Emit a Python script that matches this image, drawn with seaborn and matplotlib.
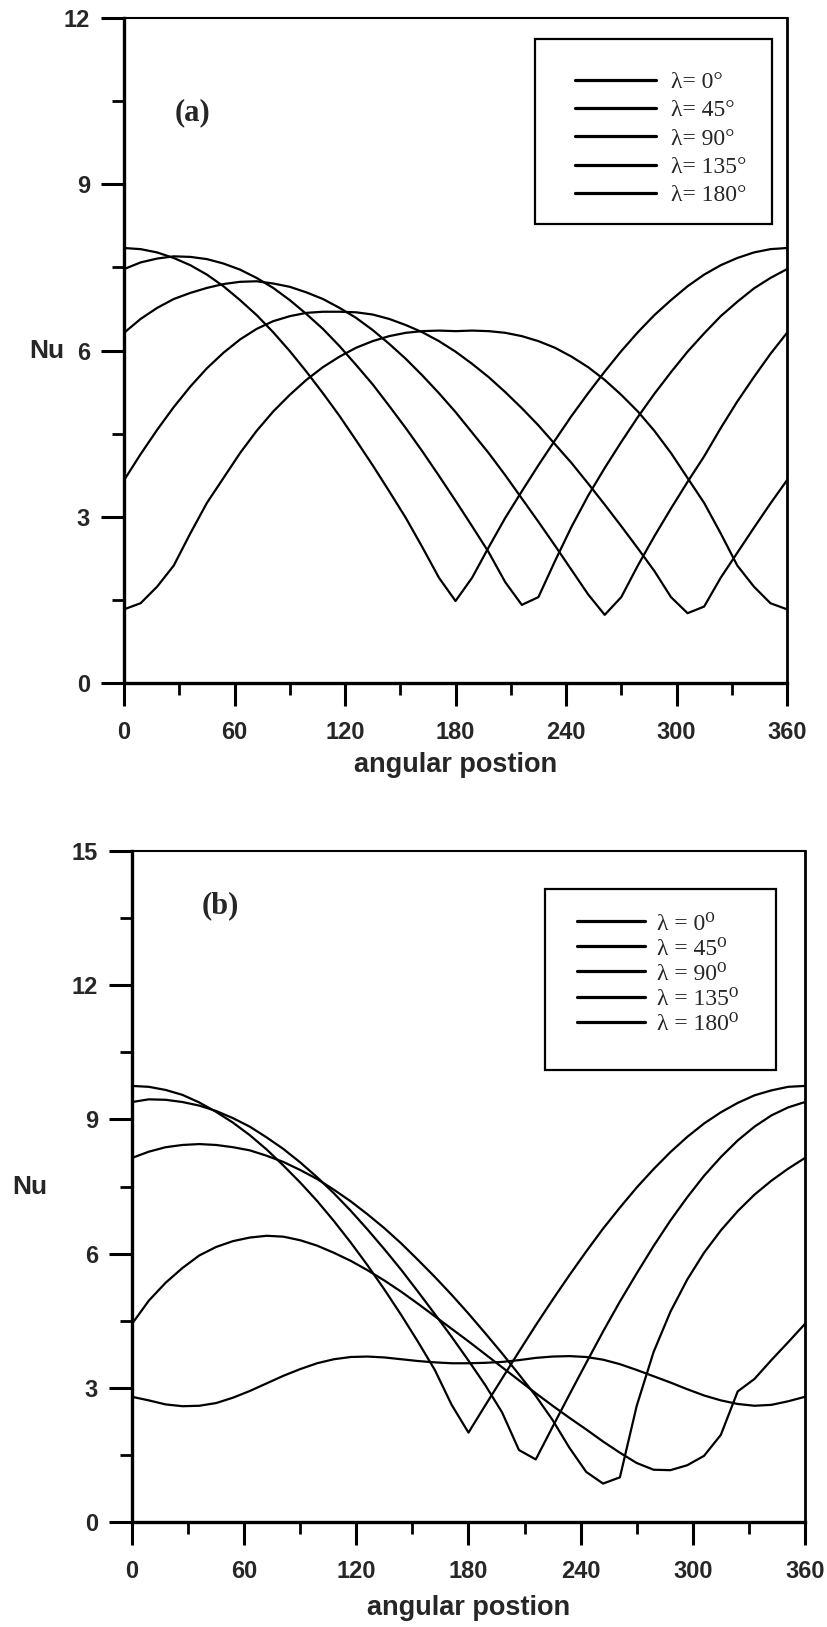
import matplotlib
matplotlib.use("Agg")
import matplotlib.pyplot as plt
from matplotlib.ticker import MultipleLocator
from matplotlib.patches import Rectangle
import seaborn as sns
import pandas as pd
import numpy as np

sns.set_style("ticks")
plt.rcParams['font.family'] = ['Liberation Sans', 'DejaVu Sans']
plt.rcParams['font.weight'] = 'bold'

# angular position samples (deg)
angle = np.arange(0, 361, 9)

# panel (a)
lam_a = ['λ= 0°', 'λ= 45°', 'λ= 90°', 'λ= 135°', 'λ= 180°']
nu_a0 = [7.85, 7.83, 7.77, 7.67, 7.54, 7.37, 7.16, 6.91, 6.64, 6.33, 5.99, 5.62, 5.23, 4.82,
         4.38, 3.93, 3.46, 2.98, 2.45, 1.90, 1.48, 1.90, 2.45, 2.98, 3.46, 3.93, 4.38, 4.82,
         5.23, 5.62, 5.99, 6.33, 6.64, 6.91, 7.16, 7.37, 7.54, 7.67, 7.77, 7.83, 7.85]
nu_a45 = [7.47, 7.59, 7.66, 7.70, 7.69, 7.65, 7.57, 7.46, 7.31, 7.13, 6.91, 6.66, 6.39, 6.08,
          5.74, 5.39, 5.00, 4.60, 4.18, 3.74, 3.29, 2.83, 2.36, 1.82, 1.41, 1.55, 2.20, 2.82,
          3.38, 3.88, 4.35, 4.80, 5.22, 5.61, 5.98, 6.31, 6.62, 6.88, 7.12, 7.31, 7.47]
nu_a90 = [6.32, 6.57, 6.77, 6.93, 7.04, 7.13, 7.20, 7.24, 7.25, 7.21, 7.15, 7.05, 6.93, 6.77,
          6.59, 6.37, 6.12, 5.85, 5.55, 5.23, 4.89, 4.52, 4.15, 3.75, 3.33, 2.91, 2.48, 2.04,
          1.60, 1.23, 1.55, 2.12, 2.65, 3.15, 3.63, 4.09, 4.60, 5.08, 5.52, 5.94, 6.32]
nu_a135 = [3.66, 4.13, 4.57, 4.98, 5.35, 5.68, 5.96, 6.20, 6.39, 6.53, 6.62, 6.68, 6.70, 6.70,
           6.69, 6.65, 6.57, 6.46, 6.33, 6.17, 5.98, 5.76, 5.52, 5.25, 4.96, 4.65, 4.31, 3.97,
           3.60, 3.22, 2.83, 2.43, 2.02, 1.55, 1.26, 1.38, 1.90, 2.35, 2.80, 3.24, 3.66]
nu_a180 = [1.33, 1.44, 1.74, 2.12, 2.70, 3.25, 3.70, 4.15, 4.55, 4.90, 5.20, 5.47, 5.70, 5.89,
           6.05, 6.17, 6.26, 6.32, 6.35, 6.36, 6.35, 6.36, 6.35, 6.32, 6.26, 6.17, 6.05, 5.89,
           5.70, 5.47, 5.20, 4.90, 4.55, 4.15, 3.70, 3.25, 2.70, 2.12, 1.74, 1.44, 1.33]

# panel (b)
lam_b = ['λ = 0⁰', 'λ = 45⁰', 'λ = 90⁰', 'λ = 135⁰', 'λ = 180⁰']
nu_b0 = [9.75, 9.73, 9.66, 9.55, 9.38, 9.17, 8.93, 8.65, 8.33, 7.97, 7.59, 7.18, 6.73, 6.25,
         5.74, 5.20, 4.63, 4.03, 3.40, 2.62, 2.00, 2.61, 3.21, 3.81, 4.40, 4.97, 5.52, 6.05,
         6.56, 7.03, 7.48, 7.89, 8.27, 8.61, 8.91, 9.16, 9.37, 9.54, 9.65, 9.73, 9.75]
nu_b45 = [9.39, 9.45, 9.44, 9.39, 9.31, 9.19, 9.03, 8.84, 8.60, 8.34, 8.04, 7.71, 7.35, 6.96,
          6.54, 6.10, 5.64, 5.15, 4.65, 4.14, 3.61, 3.06, 2.45, 1.61, 1.40, 2.13, 2.85, 3.56,
          4.26, 4.93, 5.56, 6.17, 6.74, 7.26, 7.74, 8.16, 8.53, 8.84, 9.09, 9.27, 9.39]
nu_b90 = [8.14, 8.28, 8.38, 8.43, 8.45, 8.43, 8.38, 8.31, 8.19, 8.05, 7.87, 7.67, 7.43, 7.17,
          6.88, 6.57, 6.23, 5.86, 5.48, 5.08, 4.66, 4.22, 3.77, 3.30, 2.82, 2.28, 1.66, 1.12,
          0.86, 1.00, 2.60, 3.80, 4.70, 5.42, 6.02, 6.52, 6.95, 7.32, 7.63, 7.90, 8.14]
nu_b135 = [4.43, 4.95, 5.35, 5.68, 5.96, 6.15, 6.28, 6.36, 6.40, 6.38, 6.30, 6.18, 6.02, 5.84,
           5.63, 5.40, 5.15, 4.88, 4.60, 4.32, 4.04, 3.75, 3.46, 3.17, 2.88, 2.60, 2.33, 2.07,
           1.80, 1.55, 1.32, 1.17, 1.16, 1.27, 1.48, 1.95, 2.92, 3.20, 3.62, 4.02, 4.43]
nu_b180 = [2.80, 2.72, 2.63, 2.59, 2.60, 2.66, 2.78, 2.93, 3.10, 3.27, 3.42, 3.55, 3.64, 3.69,
           3.70, 3.68, 3.64, 3.60, 3.57, 3.55, 3.55, 3.56, 3.58, 3.62, 3.67, 3.70, 3.71, 3.69,
           3.63, 3.53, 3.40, 3.26, 3.12, 2.97, 2.83, 2.72, 2.64, 2.60, 2.62, 2.70, 2.80]


def long_df(labels, series):
    frames = [pd.DataFrame({'angle': angle, 'Nu': s, 'lam': lab}) for lab, s in zip(labels, series)]
    return pd.concat(frames, ignore_index=True)


df_a = long_df(lam_a, [nu_a0, nu_a45, nu_a90, nu_a135, nu_a180])
df_b = long_df(lam_b, [nu_b0, nu_b45, nu_b90, nu_b135, nu_b180])

fig = plt.figure(figsize=(8.28, 16.27), dpi=100)
ax1 = fig.add_axes([0.1498, 0.5802, 0.8007, 0.4087])
ax2 = fig.add_axes([0.1594, 0.0645, 0.8128, 0.4124])


def style_axes(ax, ymax, nu_x, xlab_y):
    ax.set_xlim(0, 360)
    ax.set_ylim(0, ymax)
    ax.xaxis.set_major_locator(MultipleLocator(60))
    ax.xaxis.set_minor_locator(MultipleLocator(30))
    ax.yaxis.set_major_locator(MultipleLocator(3))
    ax.yaxis.set_minor_locator(MultipleLocator(1.5))
    ax.tick_params(which='major', direction='out', length=16.5, width=2.2, labelsize=17,
                   color='black', top=False, right=False)
    ax.tick_params(which='minor', direction='out', length=8.5, width=2.0, color='black',
                   top=False, right=False)
    ax.tick_params(axis='x', which='major', pad=11)
    ax.tick_params(axis='y', which='major', pad=8)
    for side, lw in [('left', 2.4), ('bottom', 2.4), ('top', 1.5), ('right', 2.0)]:
        ax.spines[side].set_visible(True)
        ax.spines[side].set_linewidth(lw)
        ax.spines[side].set_color('black')
    ax.set_xlabel('angular postion', fontsize=19.5, fontweight='bold')
    ax.xaxis.set_label_coords(0.5, xlab_y)
    ax.xaxis.label.set_va('center')
    ax.set_ylabel('Nu', fontsize=19, fontweight='bold', rotation=0)
    ax.yaxis.set_label_coords(nu_x, 0.5)
    ax.yaxis.label.set_va('center')
    ax.yaxis.label.set_ha('center')


for ax, df in [(ax1, df_a), (ax2, df_b)]:
    sns.lineplot(data=df, x='angle', y='Nu', hue='lam', palette=['black'] * 5,
                 estimator=None, sort=False, linewidth=1.6, legend=False, ax=ax)

style_axes(ax1, 12, -0.1166, -0.123)
style_axes(ax2, 15, -0.1516, -0.128)

ax1.text(37, 10.29, '(a)', family=['Liberation Serif', 'DejaVu Serif'], weight='bold',
         size=22, ha='center', va='center')
ax2.text(47, 13.77, '(b)', family=['Liberation Serif', 'DejaVu Serif'], weight='bold',
         size=22, ha='center', va='center')

# legend frames drawn separately, entries placed inside
for ax, (x0, y0, x1, y1) in [(ax1, (0.620, 0.690, 0.977, 0.968)),
                             (ax2, (0.614, 0.674, 0.957, 0.943))]:
    ax.add_patch(Rectangle((x0, y0), x1 - x0, y1 - y0, transform=ax.transAxes,
                           facecolor='white', edgecolor='black', linewidth=1.6, zorder=4))

leg_font = {'family': ['Liberation Serif', 'DejaVu Serif'], 'size': 17, 'weight': 'normal'}
leg1 = ax1.legend(ax1.get_lines()[:5], lam_a, loc='upper left', bbox_to_anchor=(0.680, 0.920),
                  borderaxespad=0, borderpad=0, prop=leg_font, handlelength=3.45,
                  handletextpad=0.64, labelspacing=0.29, frameon=False)
leg2 = ax2.legend(ax2.get_lines()[:5], lam_b, loc='upper left', bbox_to_anchor=(0.661, 0.9076),
                  borderaxespad=0, borderpad=0, prop=leg_font, handlelength=2.9,
                  handletextpad=0.5, labelspacing=0.15, frameon=False)
for leg in (leg1, leg2):
    leg.set_zorder(6)
    for h in leg.legend_handles:
        h.set_linewidth(2.3)

fig.savefig('out.png', dpi=100)
